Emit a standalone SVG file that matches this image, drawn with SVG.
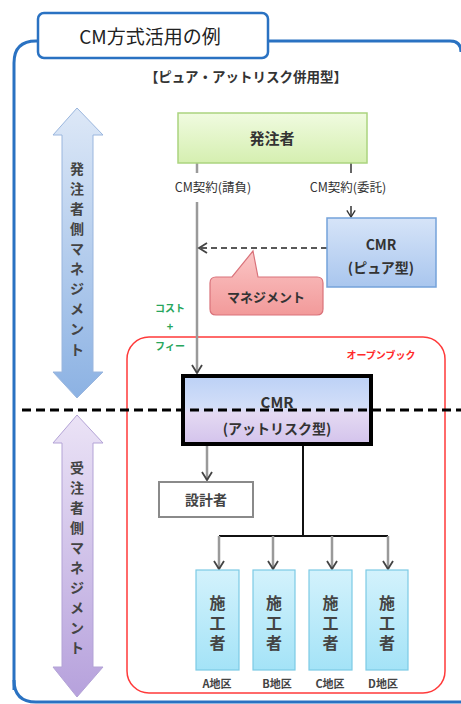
<svg xmlns="http://www.w3.org/2000/svg" width="461" height="704" viewBox="0 0 461 704">
<defs>
<style>
text{font-family:"Noto Sans CJK JP","Noto Sans",sans-serif;font-weight:bold;text-anchor:middle;fill:#333}
.lbl{font-size:12.5px;font-weight:normal;fill:#333}
.v{font-size:14px;fill:#444}
.kou{font-size:16px;fill:#444;writing-mode:vertical-rl;text-orientation:upright;letter-spacing:4px}
.area{font-size:11px;fill:#444}
.gray{stroke:#9a9a9a;stroke-width:2.5;fill:none}
.blk{stroke:#111;stroke-width:2;fill:none}
</style>
<linearGradient id="gGreen" x1="0" y1="0" x2="0" y2="1"><stop offset="0" stop-color="#f0fbe0"/><stop offset="1" stop-color="#d5efb0"/></linearGradient>
<linearGradient id="gBlue" x1="0" y1="0" x2="0" y2="1"><stop offset="0" stop-color="#d6e4f8"/><stop offset="1" stop-color="#a9c6ee"/></linearGradient>
<linearGradient id="gPink" x1="0" y1="0" x2="0" y2="1"><stop offset="0" stop-color="#fbc6c6"/><stop offset="1" stop-color="#f29a9a"/></linearGradient>
<linearGradient id="gCmr" x1="0" y1="0" x2="0" y2="1"><stop offset="0" stop-color="#bcd1f6"/><stop offset="0.45" stop-color="#d2def8"/><stop offset="0.55" stop-color="#e4d9f2"/><stop offset="1" stop-color="#d3c3ec"/></linearGradient>
<linearGradient id="gCyan" x1="0" y1="0" x2="0" y2="1"><stop offset="0" stop-color="#d3f2fc"/><stop offset="1" stop-color="#a4e3f7"/></linearGradient>
<linearGradient id="gArrB" x1="0" y1="0" x2="0" y2="1"><stop offset="0" stop-color="#dde8f7"/><stop offset="1" stop-color="#8cb2e3"/></linearGradient>
<linearGradient id="gArrP" x1="0" y1="0" x2="0" y2="1"><stop offset="0" stop-color="#ebe3f6"/><stop offset="1" stop-color="#b6a1dc"/></linearGradient>
<marker id="chev" viewBox="0 0 12 12" refX="10" refY="6" markerWidth="12" markerHeight="12" markerUnits="userSpaceOnUse" orient="auto">
<path d="M2,1 L10,6 L2,11" fill="none" stroke="#444" stroke-width="1.8"/>
</marker>
<marker id="chevS" viewBox="0 0 12 12" refX="10" refY="6" markerWidth="10" markerHeight="10" markerUnits="userSpaceOnUse" orient="auto">
<path d="M2,1 L10,6 L2,11" fill="none" stroke="#333" stroke-width="1.6"/>
</marker>
</defs>

<!-- outer frame -->
<g id="frame">
<path d="M14,690 V63 Q14,41 36,41 H450 Q461,41 461,52" fill="none" stroke="#2a72c2" stroke-width="3"/>
<path d="M14,680 Q14,702 36,702 H461" fill="none" stroke="#2a72c2" stroke-width="3"/>
<rect x="38" y="13" width="230" height="45" rx="6" fill="#fff" stroke="#2a72c2" stroke-width="2.5"/>
<text x="150" y="44" style="font-size:19px;font-weight:normal;fill:#222">CM方式活用の例</text>
<text x="246" y="82" style="font-size:13.5px;fill:#333">【ピュア・アットリスク併用型】</text>
</g>

<!-- side arrows -->
<g id="arrow-hatchu">
<polygon points="77,108 103,135 93,135 93,372 103,372 77,398 53,372 62,372 62,135 53,135" fill="url(#gArrB)" stroke="#9ab6de" stroke-width="1"/>
<text class="v"><tspan x="77" y="174">発</tspan><tspan x="77" y="194">注</tspan><tspan x="77" y="214">者</tspan><tspan x="77" y="234">側</tspan><tspan x="77" y="254">マ</tspan><tspan x="77" y="274">ネ</tspan><tspan x="77" y="294">ジ</tspan><tspan x="77" y="314">メ</tspan><tspan x="77" y="334">ン</tspan><tspan x="77" y="355">ト</tspan></text>
</g>
<g id="arrow-juchu">
<polygon points="77,415 103,443 93,443 93,667 103,667 77,697 53,667 62,667 62,443 53,443" fill="url(#gArrP)" stroke="#b3a3d6" stroke-width="1"/>
<text class="v"><tspan x="77" y="473">受</tspan><tspan x="77" y="493">注</tspan><tspan x="77" y="513">者</tspan><tspan x="77" y="533">側</tspan><tspan x="77" y="553">マ</tspan><tspan x="77" y="573">ネ</tspan><tspan x="77" y="593">ジ</tspan><tspan x="77" y="613">メ</tspan><tspan x="77" y="633">ン</tspan><tspan x="77" y="653">ト</tspan></text>
</g>

<!-- open book area -->
<g id="openbook">
<rect x="127" y="337" width="318" height="356" rx="22" fill="none" stroke="#ff3a3a" stroke-width="1.5"/>
<text x="381" y="359" style="font-size:10px;fill:#ff2a2a">オープンブック</text>
</g>

<!-- connectors -->
<g id="connectors">
<line x1="197" y1="163" x2="197" y2="173" class="gray"/>
<line x1="197" y1="202" x2="197" y2="373" class="gray" marker-end="url(#chev)"/>
<line x1="351" y1="163" x2="351" y2="173" stroke="#333" stroke-width="1.5"/>
<line x1="351" y1="206" x2="351" y2="217" stroke="#333" stroke-width="1.5" marker-end="url(#chevS)"/>
<line x1="327" y1="248" x2="199" y2="248" stroke="#222" stroke-width="1.5" stroke-dasharray="6,4" marker-end="url(#chev)"/>
<line x1="207" y1="446" x2="207" y2="480" class="gray" marker-end="url(#chev)"/>
<polyline points="303,446 303,536" class="blk"/>
<line x1="219" y1="536" x2="388" y2="536" class="blk"/>
<line x1="219" y1="536" x2="219" y2="569" class="gray" marker-end="url(#chev)"/>
<line x1="273" y1="536" x2="273" y2="569" class="gray" marker-end="url(#chev)"/>
<line x1="332" y1="536" x2="332" y2="569" class="gray" marker-end="url(#chev)"/>
<line x1="388" y1="536" x2="388" y2="569" class="gray" marker-end="url(#chev)"/>
<text class="lbl" x="213" y="192">CM契約(請負)</text>
<text class="lbl" x="348" y="192">CM契約(委託)</text>
<text x="170" y="312" style="font-size:10px;fill:#27a65c">コスト</text>
<text x="170" y="331" style="font-size:11px;fill:#27a65c">+</text>
<text x="170" y="350" style="font-size:10px;fill:#27a65c">フィー</text>
</g>

<!-- nodes -->
<g id="hatchusha">
<rect x="178" y="113" width="189" height="50" fill="url(#gGreen)" stroke="#abd47f" stroke-width="1.5"/>
<text x="272" y="144" style="font-size:15px">発注者</text>
</g>
<g id="cmr-pure">
<rect x="327" y="218" width="109" height="69" fill="url(#gBlue)" stroke="#74a2da" stroke-width="1.5"/>
<text x="381" y="250" style="font-size:14px">CMR</text>
<text x="381" y="273" style="font-size:14px">(ピュア型)</text>
</g>
<g id="management">
<path d="M216,277 H232 L253,251 L258,277 H317 Q323,277 323,283 V309 Q323,315 317,315 H216 Q210,315 210,309 V283 Q210,277 216,277 Z" fill="url(#gPink)" stroke="#d9727a" stroke-width="1.2"/>
<text x="266" y="302" style="font-size:13px">マネジメント</text>
</g>
<g id="cmr-atrisk">
<rect x="183" y="376" width="188" height="68" fill="url(#gCmr)" stroke="#000" stroke-width="4"/>
<text x="277" y="408" style="font-size:15px">CMR</text>
<text x="277" y="434" style="font-size:14px">(アットリスク型)</text>
</g>
<g id="sekkeisha">
<rect x="159" y="482" width="94" height="35" fill="#fff" stroke="#8a8a8a" stroke-width="2"/>
<text x="206" y="505" style="font-size:14px;fill:#444">設計者</text>
</g>
<g id="sekou-a">
<rect x="196" y="570" width="43" height="100" fill="url(#gCyan)" stroke="#7ccae4" stroke-width="1.2"/>
<text class="kou" x="217.5" y="625">施工者</text>
<text class="area" x="217" y="688">A地区</text>
</g>
<g id="sekou-b">
<rect x="253" y="570" width="42" height="100" fill="url(#gCyan)" stroke="#7ccae4" stroke-width="1.2"/>
<text class="kou" x="274" y="625">施工者</text>
<text class="area" x="277" y="688">B地区</text>
</g>
<g id="sekou-c">
<rect x="309" y="570" width="43" height="100" fill="url(#gCyan)" stroke="#7ccae4" stroke-width="1.2"/>
<text class="kou" x="330.5" y="625">施工者</text>
<text class="area" x="330" y="688">C地区</text>
</g>
<g id="sekou-d">
<rect x="366" y="570" width="42" height="100" fill="url(#gCyan)" stroke="#7ccae4" stroke-width="1.2"/>
<text class="kou" x="387" y="625">施工者</text>
<text class="area" x="383" y="688">D地区</text>
</g>

<!-- divider -->
<g id="divider">
<line x1="22" y1="410" x2="461" y2="410" stroke="#000" stroke-width="3" stroke-dasharray="9,5"/>
</g>
</svg>
